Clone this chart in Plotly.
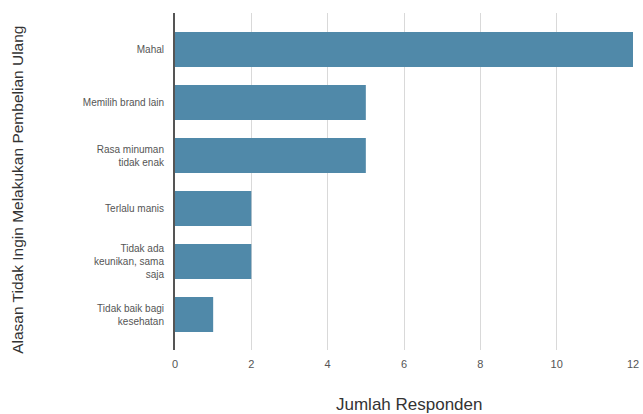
import plotly.graph_objects as go

categories = ["Mahal", "Memilih brand lain", "Rasa minuman<br>tidak enak", "Terlalu manis",
              "Tidak ada<br>keunikan, sama<br>saja", "Tidak baik bagi<br>kesehatan"]
values = [12, 5, 5, 2, 2, 1]
x_ticks = [0, 2, 4, 6, 8, 10, 12]
x_title = "Jumlah Responden"
y_title = "Alasan Tidak Ingin Melakukan Pembelian Ulang"

fig = go.Figure(go.Bar(
    x=values, y=categories, orientation="h",
    marker=dict(color="#5089a9", line=dict(width=0)),
    width=0.66,
))

fig.update_layout(
    width=643, height=414,
    margin=dict(l=175, r=10, t=13, b=64),
    paper_bgcolor="white", plot_bgcolor="white",
    font=dict(family="Liberation Sans, Arial, sans-serif", color="#555555", size=10),
    showlegend=False,
)
fig.update_xaxes(
    range=[0, 12], tickvals=x_ticks, showgrid=True, gridcolor="#d9d9d9", gridwidth=1,
    zeroline=False, showline=False, ticks="", ticklabelstandoff=6, automargin=False,
    tickfont=dict(size=11),
)
fig.update_yaxes(
    range=[5.67, -0.69], showgrid=False, ticks="", showline=True,
    linecolor="#555555", linewidth=2,
    ticklabelstandoff=7, automargin=False,
)
fig.add_annotation(text=x_title, xref="paper", yref="paper", x=0.51, y=-0.163,
                   showarrow=False, font=dict(size=17, color="#333333"),
                   xanchor="center", yanchor="middle")
fig.add_annotation(text=y_title, xref="paper", yref="paper", x=-0.343, y=0.475,
                   showarrow=False, textangle=-90, font=dict(size=15.5, color="#333333"),
                   xanchor="center", yanchor="middle")

fig.write_html(
    "out.html",
    config={"displayModeBar": False},
    post_script="document.body.style.margin='0';document.body.style.overflow='hidden';",
)
